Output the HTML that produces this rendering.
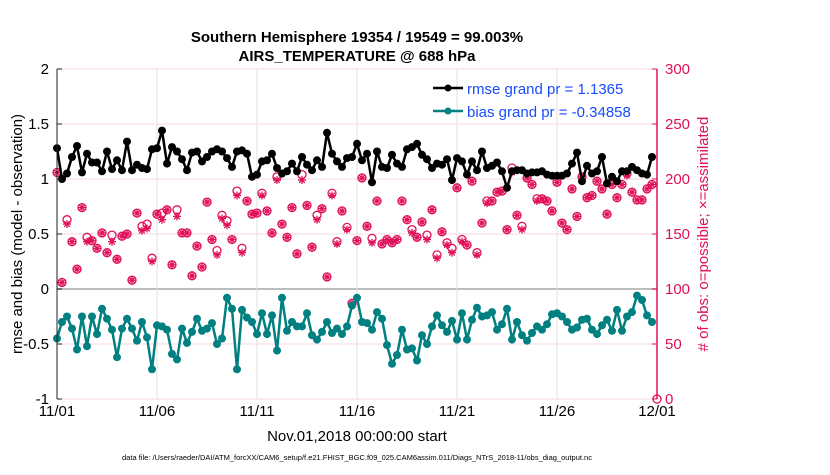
<!DOCTYPE html>
<html><head><meta charset="utf-8"><style>
body{margin:0;background:#fff;}
svg text{font-family:"Liberation Sans",Arial,sans-serif;}
</style></head><body>
<svg id="chart" width="830" height="470" xmlns="http://www.w3.org/2000/svg">
<rect width="830" height="470" fill="#fff"/>
<g id="grid"></g>
<g id="marks"></g>
<g id="axes"></g>
<text x="357" y="42" text-anchor="middle" font-size="15" font-weight="bold">Southern Hemisphere 19354 / 19549 = 99.003%</text>
<text x="357" y="61" text-anchor="middle" font-size="15" font-weight="bold">AIRS_TEMPERATURE @ 688 hPa</text>
<text transform="translate(22,234) rotate(-90)" text-anchor="middle" font-size="15">rmse and bias (model - observation)</text>
<text transform="translate(708,234) rotate(-90)" text-anchor="middle" font-size="15" fill="#e0105a"># of obs: o=possible; ×=assimilated</text>
<text x="357" y="441" text-anchor="middle" font-size="15">Nov.01,2018 00:00:00 start</text>
<text x="357" y="460" text-anchor="middle" font-size="7.5">data file: /Users/raeder/DAI/ATM_forcXX/CAM6_setup/f.e21.FHIST_BGC.f09_025.CAM6assim.011/Diags_NTrS_2018-11/obs_diag_output.nc</text>
<g>
<line x1="433" y1="88" x2="463" y2="88" stroke="#000" stroke-width="2.5"/>
<circle cx="448" cy="88" r="3.5" fill="#000"/>
<text x="467" y="94" font-size="15" fill="#1a4cff">rmse grand pr = 1.1365</text>
<line x1="433" y1="111" x2="463" y2="111" stroke="#008080" stroke-width="2.5"/>
<circle cx="448" cy="111" r="3.5" fill="#008080"/>
<text x="467" y="117" font-size="15" fill="#1a4cff">bias grand pr = -0.34858</text>
</g>
</svg>
<script>
const rmse=[1.28,1.0,1.05,1.2,1.30,1.06,1.23,1.15,1.15,1.07,1.25,1.09,1.17,1.08,1.34,1.08,1.13,1.10,1.09,1.27,1.28,1.44,1.14,1.29,1.25,1.18,1.08,1.24,1.25,1.16,
1.20,1.25,1.27,1.25,1.19,1.11,1.25,1.26,1.23,1.02,1.04,1.16,1.17,1.23,1.10,1.05,1.07,1.14,1.07,1.20,1.13,1.08,1.17,1.11,1.42,1.23,1.16,1.11,1.19,1.20,
1.32,1.17,1.23,0.97,1.25,1.11,1.10,1.22,1.14,1.11,1.27,1.29,1.32,1.22,1.18,1.10,1.14,1.13,1.18,0.99,1.19,1.16,1.04,1.16,1.08,1.25,1.10,1.12,1.15,1.07,
0.92,1.07,1.08,1.08,1.05,1.06,1.06,1.07,1.04,1.03,1.03,1.03,1.05,1.14,1.24,0.98,1.12,1.05,1.07,1.20,0.96,1.02,0.98,1.07,1.07,1.11,1.08,1.05,1.04,1.20];
const bias=[-0.45,-0.30,-0.25,-0.36,-0.55,-0.25,-0.52,-0.25,-0.41,-0.18,-0.27,-0.37,-0.62,-0.36,-0.27,-0.36,-0.47,-0.30,-0.44,-0.73,-0.33,-0.34,-0.37,-0.59,-0.64,-0.36,-0.49,-0.39,-0.27,-0.38,
-0.36,-0.31,-0.50,-0.45,-0.08,-0.18,-0.73,-0.19,-0.26,-0.30,-0.41,-0.22,-0.41,-0.24,-0.56,-0.08,-0.38,-0.30,-0.34,-0.34,-0.22,-0.42,-0.46,-0.39,-0.30,-0.40,-0.36,-0.41,-0.34,-0.15,
-0.08,-0.30,-0.31,-0.37,-0.21,-0.27,-0.51,-0.68,-0.60,-0.37,-0.55,-0.54,-0.65,-0.42,-0.50,-0.34,-0.24,-0.33,-0.39,-0.29,-0.46,-0.22,-0.46,-0.28,-0.17,-0.25,-0.24,-0.21,-0.37,-0.32,
-0.18,-0.46,-0.30,-0.42,-0.47,-0.40,-0.34,-0.37,-0.32,-0.23,-0.22,-0.25,-0.30,-0.37,-0.35,-0.28,-0.27,-0.37,-0.41,-0.33,-0.28,-0.38,-0.19,-0.38,-0.25,-0.21,-0.06,-0.10,-0.24,-0.30];
const nPossible=[206,106,163,143,118,174,147,144,137,151,133,149,127,148,150,108,169,157,159,128,168,169,172,122,172,151,151,112,139,120,
179,145,135,167,162,145,189,137,180,168,169,187,171,151,202,159,147,174,132,204,176,138,167,173,111,187,143,171,156,87,
144,201,157,146,180,141,145,142,145,180,163,154,147,161,149,172,131,152,142,137,192,145,140,198,133,160,180,180,188,189,
154,210,167,157,201,195,182,182,180,171,197,160,154,191,166,202,183,185,198,191,168,195,183,195,205,188,181,181,191,195,0];
const nAssim=[206,106,159,143,118,174,143,144,137,151,133,143,127,148,150,108,169,153,155,125,168,163,172,122,166,151,151,112,139,120,
179,145,131,164,158,145,185,133,180,168,169,185,171,151,199,159,147,174,132,199,176,138,163,173,111,185,141,171,154,87,
144,201,157,142,180,141,145,142,145,180,163,151,147,161,145,172,128,152,140,133,192,143,140,198,131,160,178,180,188,189,
154,206,167,154,201,195,180,182,180,171,197,160,154,191,166,202,183,185,198,191,168,195,183,195,203,188,181,181,191,195,null];
const xTickLabels=["11/01","11/06","11/11","11/16","11/21","11/26","12/01"];
const xTickDays=[0,5,10,15,20,25,30];
const leftTicks=[2,1.5,1,0.5,0,-0.5,-1];
const leftTickLabels=["2","1.5","1","0.5","0","-0.5","-1"];
const rightTicks=[300,250,200,150,100,50,0];

const NS="http://www.w3.org/2000/svg";
const X0=57,X1=657,Y0=399,Y1=69;
const xDay=d=>X0+(X1-X0)*d/30;
const xIdx=i=>xDay(i*0.25);
const yL=v=>Y0-(v+1)/3*(Y0-Y1);
const yR=c=>Y0-c/300*(Y0-Y1);
function mk(tag,attrs,parent){const e=document.createElementNS(NS,tag);for(const k in attrs)e.setAttribute(k,attrs[k]);parent.appendChild(e);return e;}
const grid=document.getElementById('grid'),marks=document.getElementById('marks'),axes=document.getElementById('axes');
const PINK="#e0105a";
leftTicks.forEach(v=>{const y=yL(v);const l=mk('line',{x1:X0,x2:X1,y1:y,y2:y,stroke:v===0?'#bdbdbd':'#f7d5e1','stroke-width':v===0?2:1},grid);

});
xTickDays.forEach(d=>{const x=xDay(d);const l=mk('line',{x1:x,x2:x,y1:Y1,y2:Y0,stroke:'#e2e2e2','stroke-width':1},grid);

});
function star(cx,cy,parent){const g=mk('g',{stroke:PINK,'stroke-width':1.3},parent);
for(let a=0;a<4;a++){const t=a*Math.PI/4;mk('line',{x1:cx-4*Math.cos(t),y1:cy-4*Math.sin(t),x2:cx+4*Math.cos(t),y2:cy+4*Math.sin(t)},g);}return g;}
nPossible.forEach((c,i)=>{if(c==null)return;const o=mk('circle',{cx:xIdx(i),cy:yR(c),r:4,fill:'none',stroke:PINK,'stroke-width':1.3},marks);

});
nAssim.forEach((c,i)=>{if(c==null)return;const s=star(xIdx(i),yR(c),marks);

});
function series(arr,color,name){
const p=mk('polyline',{points:arr.map((v,i)=>xIdx(i)+','+yL(v)).join(' '),fill:'none',stroke:color,'stroke-width':2.5,'stroke-linejoin':'round'},marks);


arr.forEach((v,i)=>{const c=mk('circle',{cx:xIdx(i),cy:yL(v),r:4,fill:color},marks);

});}
series(rmse,'#000','rmse');
series(bias,'#008080','bias');
const la=mk('line',{x1:X0,x2:X0,y1:Y1,y2:Y0,stroke:'#222','stroke-width':1},axes);


const ra=mk('line',{x1:X1,x2:X1,y1:Y1,y2:Y0,stroke:PINK,'stroke-width':1.5},axes);


leftTicks.forEach((v,k)=>{const y=yL(v);mk('line',{x1:X0,x2:X0+5,y1:y,y2:y,stroke:'#222'},axes);
const t=mk('text',{x:X0-8,y:y+5,'text-anchor':'end','font-size':15},axes);t.textContent=leftTickLabels[k];

});
rightTicks.forEach(c=>{const y=yR(c);mk('line',{x1:X1-5,x2:X1,y1:y,y2:y,stroke:PINK},axes);
const t=mk('text',{x:X1+8,y:y+5,'font-size':15,fill:PINK},axes);t.textContent=String(c);

});
xTickDays.forEach((d,k)=>{const x=xDay(d);
const t=mk('text',{x:x,y:416,'text-anchor':'middle','font-size':15},axes);t.textContent=xTickLabels[k];

});
</script>
</body></html>
